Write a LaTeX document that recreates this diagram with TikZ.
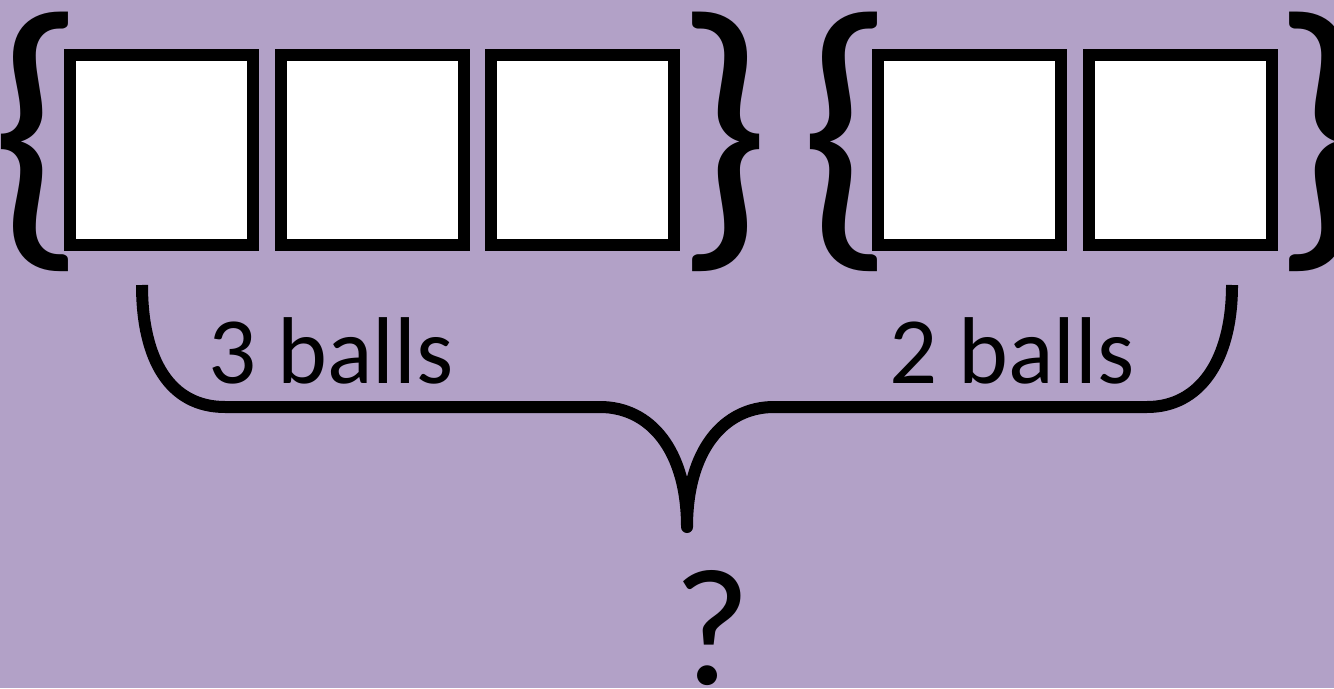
\documentclass[tikz,border=0pt]{standalone}
\usepackage{fontspec}
\setmainfont{Carlito}
\usetikzlibrary{positioning}
\definecolor{lavender}{HTML}{B2A1C7}

\begin{document}
\begin{tikzpicture}[line width=0.24cm,
    slot/.style={draw, fill=white, minimum width=3.66cm, minimum height=3.80cm, inner sep=0pt},
    curly/.style={inner sep=0pt, font=\fontsize{172}{172}\selectfont},
    ballstext/.style={anchor=base west, inner sep=0pt, font=\fontsize{54}{60}\selectfont}]
    % Background
    \useasboundingbox (0,0) rectangle (26.68,13.76);
    \fill[lavender] (0,0) rectangle (26.68,13.76);

    % Boxes (slots)
    \node[slot] (s1) at (3.23,10.76) {};
    \node[slot, right=0.31cm of s1] (s2) {};
    \node[slot, right=0.31cm of s2] (s3) {};
    \node[slot] (s4) at (19.39,10.76) {};
    \node[slot, right=0.31cm of s4] (s5) {};

    % Braces round each group
    \node[curly] (l1) at (0.76,10.93) {\{};
    \node[curly] (r1) at (14.46,10.93) {\}};
    \node[curly] (l2) at (16.94,10.93) {\{};
    \node[curly] (r2) at (26.40,10.93) {\}};

    % Under brace
    \coordinate (armL) at (2.84,8.06);
    \coordinate (armR) at (24.64,8.06);
    \coordinate (tip) at (13.74,3.22);
    \draw[line join=round] (armL) .. controls (2.84,6.56) and (3.40,5.62) .. (4.50,5.62)
        -- (12.00,5.62) .. controls (13.00,5.62) and (13.74,4.76) .. (tip)
        .. controls (13.74,4.76) and (14.48,5.62) .. (15.48,5.62)
        -- (22.94,5.62) .. controls (24.00,5.62) and (24.64,6.56) .. (armR);

    % Labels
    \node[ballstext] (t3) at (4.04,6.10) {3 balls};
    \node[ballstext] (t2) at (17.66,6.10) {2 balls};
    \node[anchor=base, inner sep=0pt, font=\fontsize{95}{100}\selectfont] (q) at (14.24,0.08) {?};
\end{tikzpicture}
\end{document}
